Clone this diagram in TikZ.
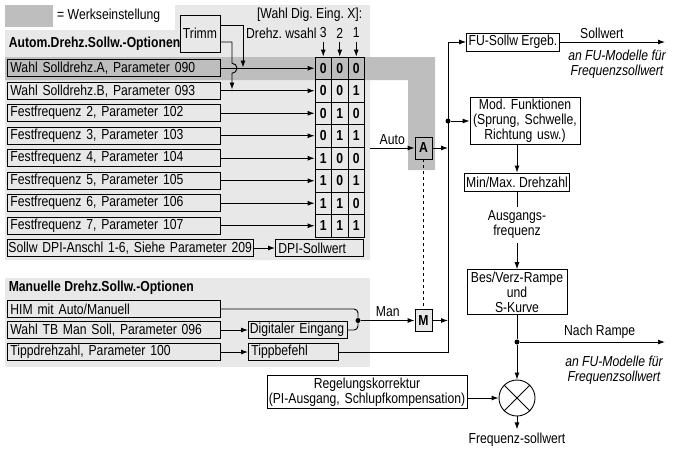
\documentclass[tikz,border=0pt]{standalone}
\usepackage{fontspec}
\setmainfont[FakeStretch=0.84]{Liberation Sans}
\usepackage{tikz}
\usetikzlibrary{positioning}
\usetikzlibrary{arrows.meta}
\definecolor{hellgrau}{RGB}{232,232,232}
\definecolor{dunkelgrau}{RGB}{190,190,190}
\newcommand{\grund}{\fontsize{14.5}{15}\selectfont\frenchspacing}

\begin{document}
\begin{tikzpicture}[x=1pt, y=-1pt, line width=0.9pt, >={Latex[length=7pt,width=5pt]},
    every node/.style={font=\grund},
    opt/.style={draw, anchor=west, text width=207pt, inner xsep=3pt, inner ysep=0pt, minimum height=17pt, align=left},
    blk/.style={draw, fill=white, inner xsep=2pt, inner ysep=2pt, minimum height=18pt, align=center},
    zelle/.style={draw, minimum width=16.5pt, minimum height=22.5pt, inner sep=0pt, font=\grund\bfseries},
    wahl/.style={draw, minimum width=17pt, minimum height=22pt, inner sep=0pt, font=\grund\bfseries},
    punkt/.style={circle, fill, inner sep=0pt, minimum size=5pt},
    kursiv/.style={align=center, font=\grund\itshape}]
    \useasboundingbox (0,0) rectangle (673,448);
    % Hintergrundflaechen
    \fill [hellgrau] (5,30) -- (175,30) -- (175,5) -- (370,5) -- (370,260) -- (5,260) -- cycle;
    \fill [hellgrau] (5,278) rectangle (370,367);
    \fill [dunkelgrau] (5,57) -- (435,57) -- (435,170) -- (408,170) -- (408,80) -- (5,80) -- cycle;
    \node (legende) [fill=dunkelgrau, minimum width=48pt, minimum height=22pt, inner sep=0pt] at (29,16) {};
    \node (legtext) [right=0pt of legende] {= Werkseinstellung};

    % Automatische Optionen
    \node (autokopf) [anchor=west, font=\grund\bfseries] at (5,44) {Autom.Drehz.Sollw.-Optionen};
    \node (trimm) [draw, minimum width=40pt, minimum height=37pt, inner sep=0pt] at (200,33.5) {Trimm};
    \node (wahlkopf) [anchor=east] at (366,15) {[Wahl Dig. Eing. X]:};
    \node (drehzwahl) [anchor=east, inner xsep=1pt] at (318,33) {Drehz. wsahl};
    \foreach \k/\n in {1/3, 2/2, 3/1}
        \node (sp\k) at (306.75+16.5*\k, 33) {\n};
    \foreach \r/\a/\b/\c in {1/0/0/0, 2/0/0/1, 3/0/1/0, 4/0/1/1, 5/1/0/0, 6/1/0/1, 7/1/1/0, 8/1/1/1} {
        \node (m\r-1) [zelle] at (323.25, 45.75+22.5*\r) {\a};
        \node (m\r-2) [zelle] at (339.75, 45.75+22.5*\r) {\b};
        \node (m\r-3) [zelle] at (356.25, 45.75+22.5*\r) {\c};
    }
    \foreach \k in {1,2,3}
        \draw [->] (sp\k) -- (m1-\k);
    \foreach \r/\txt in {1/{Wahl Solldrehz.A, Parameter 090}, 2/{Wahl Solldrehz.B, Parameter 093},
        3/{Festfrequenz 2, Parameter 102}, 4/{Festfrequenz 3, Parameter 103},
        5/{Festfrequenz 4, Parameter 104}, 6/{Festfrequenz 5, Parameter 105},
        7/{Festfrequenz 6, Parameter 106}, 8/{Festfrequenz 7, Parameter 107}} {
        \node (opt\r) [opt] at (7, 45.75+22.5*\r) {\mbox{\txt}};
        \draw [->] (opt\r) -- (m\r-1);
    }
    \node (dpiopt) [opt, text width=244pt, inner xsep=1pt] at (7,248) {\mbox{Sollw DPI-Anschl 1-6, Siehe Parameter 209}};
    \node (dpisoll) [opt, text width=82pt] at (275,248) {DPI-Sollwert};
    \draw [->] (dpiopt) -- (dpisoll);
    \coordinate (trimmA) at (243,67.5);
    \coordinate (trimmB) at (232,89.5);
    \draw [->] ([yshift=8.5pt]trimm.east) -| (trimmA);
    \draw [->] ([yshift=-8.5pt]trimm.east) -| (232,63.25) arc (-90:90:5) -- (trimmB);

    % Manuelle Optionen
    \node (mankopf) [anchor=west, font=\grund\bfseries] at (5,288) {Manuelle Drehz.Sollw.-Optionen};
    \node (him) [opt] at (7,309) {HIM mit Auto/Manuell};
    \node (tbman) [opt] at (7,330) {\mbox{Wahl TB Man Soll, Parameter 096}};
    \node (tipprz) [opt] at (7,352) {\mbox{Tippdrehzahl, Parameter 100}};
    \node (digein) [opt, text width=96pt, inner xsep=1.5pt] at (248,330) {\mbox{Digitaler Eingang}};
    \node (tipp) [opt, text width=84pt] at (248,352) {Tippbefehl};
    \draw [->] (tbman) -- (digein);
    \draw [->] (tipprz) -- (tipp);
    \node (manpunkt) [punkt] at (358,320.5) {};
    \draw [rounded corners=4pt] (him) -| (manpunkt);
    \draw [rounded corners=4pt] (digein) -| (manpunkt);

    % Umschaltung Auto / Man
    \node (autoA) [wahl] at (423.5,148) {A};
    \node (manM) [wahl, fill=hellgrau] at (423.5,320.5) {M};
    \coordinate (autoein) at (370,148);
    \draw [->] (autoein) -- (autoA) node [midway, above] {Auto};
    \draw [->] (manpunkt) -- (manM) node [midway, above] {Man};
    \draw [dashed] (autoA) -- (manM);

    % Sollwertpfad
    \node (fu) [blk] at (513,42) {FU-Sollw Ergeb.};
    \node (mod) [blk, text width=106pt] at (525,121) {Mod. Funktionen\\(Sprung, Schwelle,\\Richtung usw.)};
    \node (minmax) [blk] at (517,182) {Min/Max. Drehzahl};
    \node (ausg) [align=center] at (517,225) {Ausgangs-\\frequenz};
    \node (bes) [blk, text width=96pt] at (517,292) {Bes/Verz-Rampe\\und\\S-Kurve};
    \node (rampdot) [punkt] at (517,342) {};
    \node (mult) [circle, draw, minimum size=36pt, inner sep=0pt] at (517,398) {};
    \node (regel) [blk, text width=199pt, inner xsep=0.5pt] at (367,392) {Regelungskorrektur\\(PI-Ausgang, Schlupfkompensation)};
    \node (freqsoll) at (517,440) {Frequenz-sollwert};
    \node (busdot) [punkt] at (448,121) {};
    \coordinate (busA) at (448,148);
    \coordinate (busM) at (448,320.5);
    \coordinate (busunten) at (448,352);
    \coordinate (sollend) at (665,42);
    \coordinate (rampend) at (665,342);
    \draw [->] (tipp) -- (busunten) |- (fu.west);
    \draw [->] (autoA) -- (busA);
    \draw [->] (manM) -- (busM);
    \draw [->] (busdot) -- (mod);
    \draw [->] (fu) -- (sollend) node [pos=0.4, above] {Sollwert};
    \node (sollmod) [kursiv] at (617,64) {an FU-Modelle für\\Frequenzsollwert};
    \draw [->] (mod.south -| minmax.north) -- (minmax.north);
    \draw (minmax) -- (ausg);
    \draw [->] (ausg) -- (bes);
    \draw (bes) -- (rampdot);
    \draw [->] (rampdot) -- (rampend) node [pos=0.55, above] {Nach Rampe};
    \node (rampmod) [kursiv] at (614,370) {an FU-Modelle für\\Frequenzsollwert};
    \draw [->] (rampdot) -- (mult);
    \draw (mult.north west) -- (mult.south east);
    \draw (mult.north east) -- (mult.south west);
    \draw [->] (regel.east |- mult.west) -- (mult.west);
    \draw [->] (mult) -- (freqsoll);
\end{tikzpicture}
\end{document}
